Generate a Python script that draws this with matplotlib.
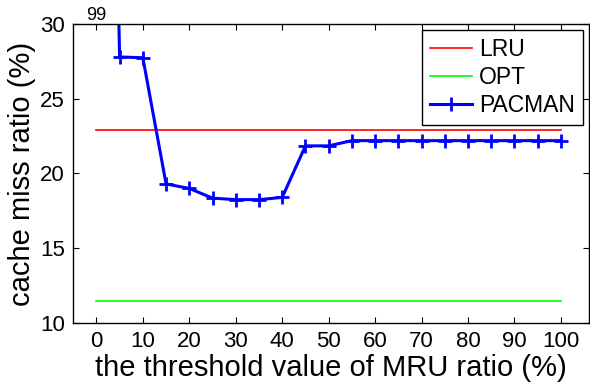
import matplotlib
matplotlib.use("Agg")
import matplotlib.pyplot as plt

plt.rcParams["font.family"] = ["Liberation Sans", "DejaVu Sans"]

thresholds = [0, 5, 10, 15, 20, 25, 30, 35, 40, 45, 50, 55, 60, 65, 70, 75, 80, 85, 90, 95, 100]
pacman = [99, 27.8, 27.75, 19.3, 19.0, 18.35, 18.25, 18.25, 18.4, 21.85, 21.85,
          22.2, 22.2, 22.2, 22.2, 22.2, 22.2, 22.2, 22.2, 22.2, 22.2]
lru = [22.9, 22.9]
opt = [11.45, 11.45]
x_span = [0, 100]
x_ticks = [0, 10, 20, 30, 40, 50, 60, 70, 80, 90, 100]
y_ticks = [10, 15, 20, 25, 30]

fig = plt.figure(figsize=(5.9, 3.89), dpi=100)
ax = fig.add_axes([0.124, 0.170, 0.874, 0.768])

ax.plot(x_span, lru, color="#ff0000", linewidth=1.2, label="LRU")
ax.plot(x_span, opt, color="#00ff00", linewidth=1.2, label="OPT")
ax.plot(thresholds, pacman, color="#0000ff", linewidth=2.2, marker="+",
        markersize=10, markeredgewidth=2.0, label="PACMAN")

ax.text(thresholds[0], 30.25, f"{pacman[0]:g}", ha="center", va="baseline", fontsize=13)

ax.set_xlim(-5, 106)
ax.set_ylim(10, 30)
ax.set_xticks(x_ticks)
ax.set_yticks(y_ticks)
ax.tick_params(direction="in", top=True, right=True, labelsize=16, length=4, pad=6)
for side in ax.spines.values():
    side.set_linewidth(1.0)

ax.set_xlabel("the threshold value of MRU ratio (%)", fontsize=21, labelpad=1)
ax.set_ylabel("cache miss ratio (%)", fontsize=21, labelpad=3)

leg = ax.legend(loc="upper right", fontsize=16.5, fancybox=False, framealpha=1,
                edgecolor="black", borderaxespad=0.25, handlelength=1.85,
                labelspacing=0.22, borderpad=0.35, handletextpad=0.3)
leg.get_frame().set_linewidth(1.0)

fig.savefig("out.png", dpi=100)
